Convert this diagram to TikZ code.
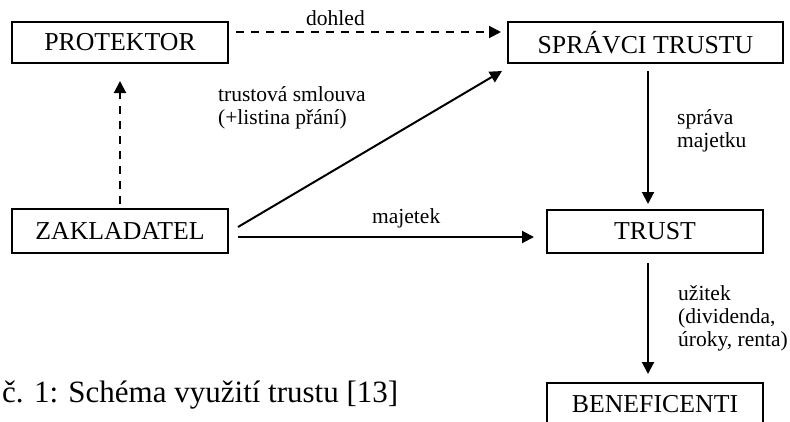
\documentclass[tikz,border=0pt]{standalone}
\usepackage{fontspec}
\setmainfont{Liberation Serif}
\usetikzlibrary{arrows.meta,calc}

\tikzset{
  box/.style={draw=black, line width=2pt, inner sep=0pt,
    font=\fontsize{25.8}{28}\selectfont},
  lbl/.style={inner sep=0pt, align=left,
    font=\fontsize{21.5}{23}\selectfont},
  flow/.style={line width=2pt, -{Triangle[length=12pt,width=12pt]}},
  flowdash/.style={flow, dash pattern=on 8pt off 7pt},
}

\begin{document}
\begin{tikzpicture}[x=1pt, y=-1pt]
  \useasboundingbox (0,0) rectangle (790,421);
  \clip (0,0) rectangle (790,421);

  % boxes
  \node[box, minimum width=216pt, minimum height=41pt] (prot)  at (120,42.5)  {PROTEKTOR};
  \node[box, minimum width=275pt, minimum height=41pt] (spr)   at (645.5,42.5) {SPRÁVCI TRUSTU};
  \node[box, minimum width=216pt, minimum height=44pt] (zak)   at (120,231)   {ZAKLADATEL};
  \node[box, minimum width=216pt, minimum height=43pt] (trust) at (655,231.5) {TRUST};
  \node[box, minimum width=216pt, minimum height=43pt] (ben)   at (655,404.5) {BENEFICENTI};

  % connectors
  \draw[flowdash] ($(prot.north east)+(7,11)$) -- ($(spr.north west)+(-6,11)$);
  \draw[flowdash] ($(zak.north)+(0,-4)$) -- ($(prot.south)+(0,17)$);
  \draw[flow] ($(zak.east)+(9,-4)$) -- ($(spr.south west)+(-5,7)$);
  \draw[flow] ($(zak.east)+(9,6)$) -- ($(trust.west)+(-12,5.5)$);
  \draw[flow] ($(spr.south)+(2.5,7)$) -- ($(trust.north)+(-7,-5)$);
  \draw[flow] ($(trust.south)+(-7,9)$) -- ($(ben.north)+(-7,-8)$);

  % labels (multi-line labels are anchored at the baseline of their last line)
  \node[lbl, anchor=base] (l1) at (335.5,25) {dohled};
  \node[lbl, anchor=base west] (l2) at (218,124.5) {trustová smlouva\\(+listina přání)};
  \node[lbl, anchor=base west] (l3) at (372,223) {majetek};
  \node[lbl, anchor=base west] (l4) at (677,147) {správa\\majetku};
  \node[lbl, anchor=base west] (l5) at (678,346) {užitek\\(dividenda,\\úroky, renta)};

  % caption
  \node[inner sep=0pt, anchor=base west, font=\fontsize{31}{34}\selectfont] (cap) at (2,402)
    {č. 1: Schéma využití trustu [13]};
\end{tikzpicture}
\end{document}
